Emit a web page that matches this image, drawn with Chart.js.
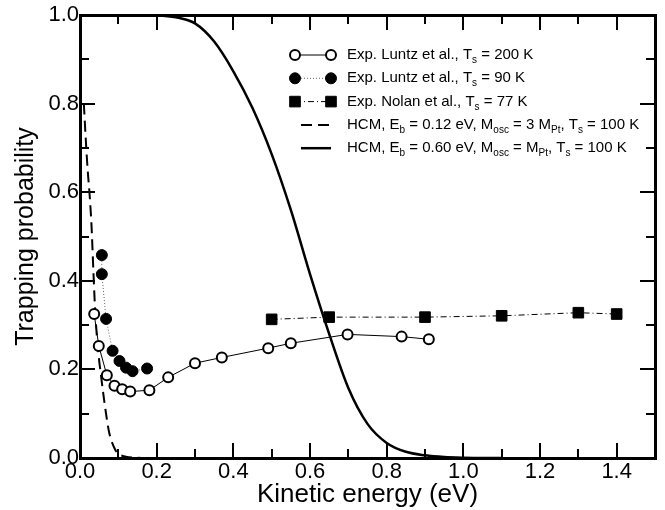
<!DOCTYPE html>
<html>
<head>
<meta charset="utf-8">
<title>Trapping probability</title>
<script src="https://cdn.jsdelivr.net/npm/chart.js@4.4.1/dist/chart.umd.min.js"></script>
<style>
  html, body { margin: 0; padding: 0; background: #fff; }
  #wrap { width: 665px; height: 510px; position: relative; }
  #frame { position: absolute; left: 0; top: 0; width: 665px; height: 510px; pointer-events: none; }
  #frame div { position: absolute; background: #000; }
  #frame .box { background: transparent; border: 3px solid #000; box-sizing: border-box; }
</style>
</head>
<body>
<div id="wrap"><canvas id="trapChart" width="665" height="510"></canvas><div id="frame"></div></div>
<script>
// Exp. Luntz et al., Ts = 200 K
var luntz200E = [0.037, 0.049, 0.070, 0.090, 0.110, 0.131, 0.181, 0.230, 0.300, 0.370, 0.491, 0.550, 0.698, 0.839, 0.910];
var luntz200P = [0.325, 0.253, 0.187, 0.163, 0.155, 0.150, 0.153, 0.182, 0.214, 0.227, 0.248, 0.259, 0.279, 0.274, 0.268];

// Exp. Luntz et al., Ts = 90 K
var luntz90E = [0.057, 0.057, 0.068, 0.085, 0.103, 0.120, 0.137, 0.175];
var luntz90P = [0.458, 0.415, 0.314, 0.242, 0.219, 0.204, 0.196, 0.202];

// Exp. Nolan et al., Ts = 77 K
var nolanE = [0.50, 0.65, 0.90, 1.10, 1.30, 1.40];
var nolanP = [0.313, 0.318, 0.318, 0.321, 0.328, 0.325];

// HCM, Eb = 0.12 eV
var hcm012E = [0.010, 0.015, 0.020, 0.025, 0.030, 0.035, 0.040, 0.045, 0.050, 0.055, 0.060, 0.065, 0.070, 0.075, 0.080, 0.085, 0.090, 0.095, 0.100, 0.110, 0.120, 0.140, 0.160];
var hcm012P = [0.80, 0.72, 0.65, 0.595, 0.525, 0.42, 0.325, 0.265, 0.22, 0.185, 0.15, 0.118, 0.088, 0.062, 0.044, 0.032, 0.022, 0.014, 0.009, 0.005, 0.003, 0.001, 0];

// HCM, Eb = 0.60 eV
var hcm060E = [0, 0.10, 0.20, 0.25, 0.30, 0.35, 0.40, 0.45, 0.50, 0.55, 0.60, 0.65, 0.70, 0.75, 0.80, 0.85, 0.90, 0.95, 1.00, 1.05, 1.10];
var hcm060P = [1, 1, 0.999, 0.995, 0.981, 0.94, 0.873, 0.79, 0.686, 0.56, 0.415, 0.28, 0.158, 0.077, 0.034, 0.014, 0.006, 0.002, 0.0005, 0.0001, 0];

var xTickValues = [0, 0.2, 0.4, 0.6, 0.8, 1.0, 1.2, 1.4];
var yTickValues = [0, 0.2, 0.4, 0.6, 0.8, 1.0];

var legendLabels = [
    'Exp. Luntz et al., T_{s} = 200 K',
    'Exp. Luntz et al., T_{s} = 90 K',
    'Exp. Nolan et al., T_{s} = 77 K',
    'HCM, E_{b} = 0.12 eV, M_{osc} = 3 M_{Pt}, T_{s} = 100 K',
    'HCM, E_{b} = 0.60 eV, M_{osc} = M_{Pt}, T_{s} = 100 K'
];

var FONT = '"Liberation Sans", Arial, Helvetica, sans-serif';

function pairs(xs, ys) {
    return xs.map(function(x, i) { return {x: x, y: ys[i]}; });
}

function addBar(parent, cls, l, t, w, h) {
    var d = document.createElement('div');
    if (cls) d.className = cls;
    d.style.left = l + 'px';
    d.style.top = t + 'px';
    d.style.width = w + 'px';
    d.style.height = h + 'px';
    parent.appendChild(d);
}

// plot box with inward ticks on all four sides (major every 0.2, minor every 0.1)
var axisFrame = {
    id: 'axisFrame',
    afterDraw: function(chart) {
        var a = chart.chartArea;
        var xs = chart.scales.x, ys = chart.scales.y;
        var f = document.getElementById('frame');
        f.innerHTML = '';
        addBar(f, 'box', a.left - 1.5, a.top - 1.5, a.right - a.left + 3, a.bottom - a.top + 3);
        for (var i = 1; i < 15; i++) {
            var px = Math.round(xs.getPixelForValue(i / 10)) - 1;
            var len = i % 2 === 0 ? 15 : 9;
            addBar(f, '', px, a.bottom - len, 2, len);
            addBar(f, '', px, a.top, 2, len);
        }
        for (var j = 1; j < 10; j++) {
            var py = Math.round(ys.getPixelForValue(j / 10)) - 1;
            var l2 = j % 2 === 0 ? 15 : 9;
            addBar(f, '', a.left, py, l2, 2);
            addBar(f, '', a.right - l2, py, l2, 2);
        }
    }
};

// draws text with _{...} parts as subscripts
function drawRich(c, text, x, y, size) {
    var parts = text.split(/(_\{[^}]*\})/);
    parts.forEach(function(p) {
        if (!p) return;
        if (p.charAt(0) === '_') {
            var s = p.slice(2, -1);
            c.font = Math.round(size * 0.68) + 'px ' + FONT;
            c.fillText(s, x, y + size * 0.35);
            x += c.measureText(s).width;
        } else {
            c.font = size + 'px ' + FONT;
            c.fillText(p, x, y);
            x += c.measureText(p).width;
        }
    });
}

var insideLegend = {
    id: 'insideLegend',
    afterDraw: function(chart) {
        var c = chart.ctx, a = chart.chartArea;
        var x0 = a.left + 215, x1 = a.left + 251, tx = a.left + 267;
        c.save();
        legendLabels.forEach(function(label, i) {
            var ds = chart.data.datasets[i];
            var y = a.top + 40 + i * 23.3;
            c.strokeStyle = ds.borderColor;
            c.lineWidth = ds.borderWidth;
            c.setLineDash(ds.borderDash || []);
            c.beginPath();
            c.moveTo(ds.pointRadius > 0 ? x0 : x0 + 6, y);
            c.lineTo(x1, y);
            c.stroke();
            c.setLineDash([]);
            if (ds.pointRadius > 0) {
                c.fillStyle = ds.pointBackgroundColor;
                c.strokeStyle = ds.pointBorderColor;
                c.lineWidth = ds.pointBorderWidth;
                [x0, x1].forEach(function(px) {
                    Chart.helpers.drawPoint(c, {
                        pointStyle: ds.pointStyle, radius: ds.pointRadius,
                        rotation: 0, borderWidth: ds.pointBorderWidth
                    }, px, y);
                });
            }
            c.fillStyle = '#000';
            c.textBaseline = 'middle';
            c.textAlign = 'left';
            drawRich(c, label, tx, y, 15);
        });
        c.restore();
    }
};

var canvas = document.getElementById('trapChart');
var trapChart = new Chart(canvas, {
    type: 'scatter',
    data: {
        datasets: [
            {
                data: pairs(luntz200E, luntz200P),
                showLine: true,
                borderColor: '#000', borderWidth: 1,
                pointStyle: 'circle', pointRadius: 5,
                pointBackgroundColor: '#fff', pointBorderColor: '#000', pointBorderWidth: 2
            },
            {
                data: pairs(luntz90E, luntz90P),
                showLine: true,
                borderColor: '#666', borderWidth: 1, borderDash: [1, 2],
                pointStyle: 'circle', pointRadius: 5.5,
                pointBackgroundColor: '#000', pointBorderColor: '#000', pointBorderWidth: 1
            },
            {
                data: pairs(nolanE, nolanP),
                showLine: true,
                borderColor: '#000', borderWidth: 1, borderDash: [6, 3, 1, 3],
                pointStyle: 'rect', pointRadius: 7.5,
                pointBackgroundColor: '#000', pointBorderColor: '#000', pointBorderWidth: 1
            },
            {
                data: pairs(hcm012E, hcm012P),
                showLine: true,
                borderColor: '#000', borderWidth: 2, borderDash: [11, 6],
                pointRadius: 0, cubicInterpolationMode: 'monotone'
            },
            {
                data: pairs(hcm060E, hcm060P),
                showLine: true,
                borderColor: '#000', borderWidth: 2.5,
                pointRadius: 0, cubicInterpolationMode: 'monotone'
            }
        ]
    },
    options: {
        responsive: false,
        animation: false,
        devicePixelRatio: 1,
        layout: { padding: { top: 15, right: 10, left: 0, bottom: 0 } },
        plugins: { legend: { display: false }, tooltip: { enabled: false } },
        scales: {
            x: {
                type: 'linear', min: 0, max: 1.5,
                grid: { display: false, drawTicks: false }, border: { display: false },
                afterBuildTicks: function(s) { s.ticks = xTickValues.map(function(v) { return {value: v}; }); },
                afterFit: function(s) { s.height = 52; },
                ticks: {
                    color: '#000', padding: 3, maxRotation: 0,
                    font: { family: FONT, size: 22, lineHeight: 1 },
                    callback: function(v) { return Number(v).toFixed(1); }
                },
                title: {
                    display: true, text: 'Kinetic energy (eV)', color: '#000',
                    font: { family: FONT, size: 26 }, padding: { top: 0, bottom: 0 }
                }
            },
            y: {
                type: 'linear', min: 0, max: 1,
                grid: { display: false, drawTicks: false }, border: { display: false },
                afterBuildTicks: function(s) { s.ticks = yTickValues.map(function(v) { return {value: v}; }); },
                afterFit: function(s) { s.width = 80; },
                ticks: {
                    color: '#000', padding: 1,
                    font: { family: FONT, size: 22, lineHeight: 1 },
                    callback: function(v) { return Number(v).toFixed(1); }
                },
                title: {
                    display: true, text: 'Trapping probability', color: '#000',
                    font: { family: FONT, size: 25 }, padding: { top: 11, bottom: 0 }
                }
            }
        }
    },
    plugins: [axisFrame, insideLegend]
});
</script>
</body>
</html>
